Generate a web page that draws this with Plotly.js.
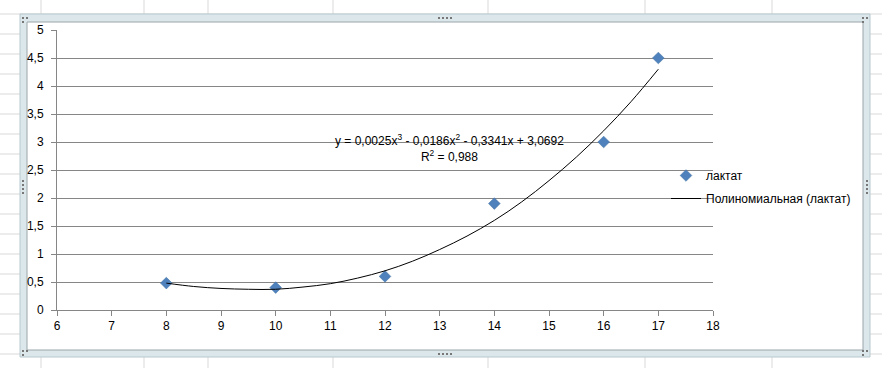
<!DOCTYPE html>
<html>
<head>
<meta charset="utf-8">
<script src="https://cdn.plot.ly/plotly-3.0.1.min.js"></script>
<style>html,body{margin:0;padding:0;background:#fff}#chart{width:882px;height:368px}</style>
</head>
<body>
<div id="chart"></div>
<script>
// Data
var seriesName = 'лактат';
var trendName = 'Полиномиальная (лактат)';
var xValues = [8, 10, 12, 14, 16, 17];
var yValues = [0.48, 0.4, 0.6, 1.9, 3.0, 4.5];
// Trendline
var trendX = [8, 8.5, 9, 9.5, 10, 10.5, 11, 11.5, 12, 12.5, 13, 13.5, 14, 14.5, 15, 15.5, 16, 16.5, 17];
var trendY = [0.48, 0.42, 0.385, 0.37, 0.37, 0.41, 0.47, 0.57, 0.70, 0.87, 1.08, 1.32, 1.60, 1.93, 2.31, 2.73, 3.20, 3.72, 4.30];
var equationText = 'y = 0,0025x<sup>3</sup> - 0,0186x<sup>2</sup> - 0,3341x + 3,0692<br>R<sup>2</sup> = 0,988';
var xTicks = [6, 7, 8, 9, 10, 11, 12, 13, 14, 15, 16, 17, 18];
var yTicks = [0, 0.5, 1, 1.5, 2, 2.5, 3, 3.5, 4, 4.5, 5];

// page geometry (pixels)
var W = 882, H = 368, L = 57, R = 713, T = 30, B = 310;
function px(x) { return (x - L) / (R - L); }
function py(y) { return (B - y) / (B - T); }

var shapes = [];
// spreadsheet grid
var cols = [41, 144, 208, 333, 488, 645, 772];
cols.forEach(function (c) {
  shapes.push({type: 'line', xref: 'paper', yref: 'paper', layer: 'below',
    x0: px(c), x1: px(c), y0: py(0), y1: py(H), line: {color: '#d9d9d9', width: 1}});
});
for (var r = 14; r <= H; r += 20) {
  shapes.push({type: 'line', xref: 'paper', yref: 'paper', layer: 'below',
    x0: px(0), x1: px(W), y0: py(r), y1: py(r), line: {color: '#d9d9d9', width: 1}});
}
// chart frame
shapes.push({type: 'rect', xref: 'paper', yref: 'paper', layer: 'below',
  x0: px(20), x1: px(870), y0: py(14), y1: py(357),
  fillcolor: '#dce7eb', line: {color: '#b7c8ce', width: 1}});
shapes.push({type: 'rect', xref: 'paper', yref: 'paper', layer: 'below',
  x0: px(27), x1: px(863), y0: py(22), y1: py(350),
  fillcolor: '#ffffff', line: {color: '#9aa6aa', width: 1}});
// handle dots
function dotsH(cx, cy) {
  for (var i = 0; i < 4; i++) {
    var x = cx + i * 4;
    shapes.push({type: 'rect', xref: 'paper', yref: 'paper', layer: 'below',
      x0: px(x), x1: px(x + 2), y0: py(cy), y1: py(cy + 2), fillcolor: '#777', line: {width: 0}});
  }
}
function dotsV(cx, cy) {
  for (var i = 0; i < 4; i++) {
    var y = cy + i * 4;
    shapes.push({type: 'rect', xref: 'paper', yref: 'paper', layer: 'below',
      x0: px(cx), x1: px(cx + 2), y0: py(y), y1: py(y + 2), fillcolor: '#777', line: {width: 0}});
  }
}
dotsH(438, 17); dotsH(438, 353); dotsV(22, 180); dotsV(866, 180);
function corner(cx, cy) {
  [[0, 0], [4, 0], [0, 4]].forEach(function (d) {
    shapes.push({type: 'rect', xref: 'paper', yref: 'paper', layer: 'below',
      x0: px(cx + d[0]), x1: px(cx + d[0] + 2), y0: py(cy + d[1]), y1: py(cy + d[1] + 2), fillcolor: '#777', line: {width: 0}});
  });
}
corner(22, 17); corner(862, 17); corner(22, 350); corner(862, 350);

var font = 'Liberation Sans, Arial, sans-serif';

var traces = [
  {x: xValues, y: yValues, name: seriesName, type: 'scatter', mode: 'markers',
   marker: {symbol: 'diamond', size: 9, color: '#4f81bd', line: {color: '#3f6f9f', width: 0.5}},
   legendgroup: 'a', cliponaxis: false},
  {x: trendX, y: trendY, name: trendName, type: 'scatter', mode: 'lines',
   line: {color: '#000000', width: 1, shape: 'spline'}, legendgroup: 'b'}
];

var layout = {
  width: W, height: H,
  margin: {l: L, r: W - R, t: T, b: H - B, pad: 0},
  paper_bgcolor: '#ffffff', plot_bgcolor: 'rgba(0,0,0,0)',
  separators: ', ',
  font: {family: font, size: 12, color: '#000'},
  showlegend: true,
  legend: {x: px(666), y: py(161), xanchor: 'left', yanchor: 'top', xref: 'paper', yref: 'paper',
           bgcolor: 'rgba(0,0,0,0)', font: {family: font, size: 12, color: '#000'},
           traceorder: 'grouped', tracegroupgap: 4, itemwidth: 30},
  xaxis: {range: [6, 18], tickvals: xTicks, ticks: 'outside', ticklen: 5, tickcolor: '#868686',
          showline: true, linecolor: '#868686', linewidth: 1, showgrid: false, zeroline: false,
          tickfont: {family: font, size: 12, color: '#000'}, fixedrange: true},
  yaxis: {range: [0, 5], tickvals: yTicks, ticks: 'outside', ticklen: 5, tickcolor: '#868686',
          showline: true, linecolor: '#868686', linewidth: 1, showgrid: true, gridcolor: '#868686', gridwidth: 1,
          zeroline: false, ticklabelstandoff: 5,
          tickfont: {family: font, size: 12, color: '#000'}, fixedrange: true},
  shapes: shapes,
  annotations: [{xref: 'paper', yref: 'paper', x: px(449), y: py(148), text: equationText, showarrow: false,
                 xanchor: 'center', yanchor: 'middle', align: 'center', font: {family: font, size: 12, color: '#000'}}]
};

Plotly.newPlot('chart', traces, layout, {staticPlot: true, displayModeBar: false});
</script>
</body>
</html>
